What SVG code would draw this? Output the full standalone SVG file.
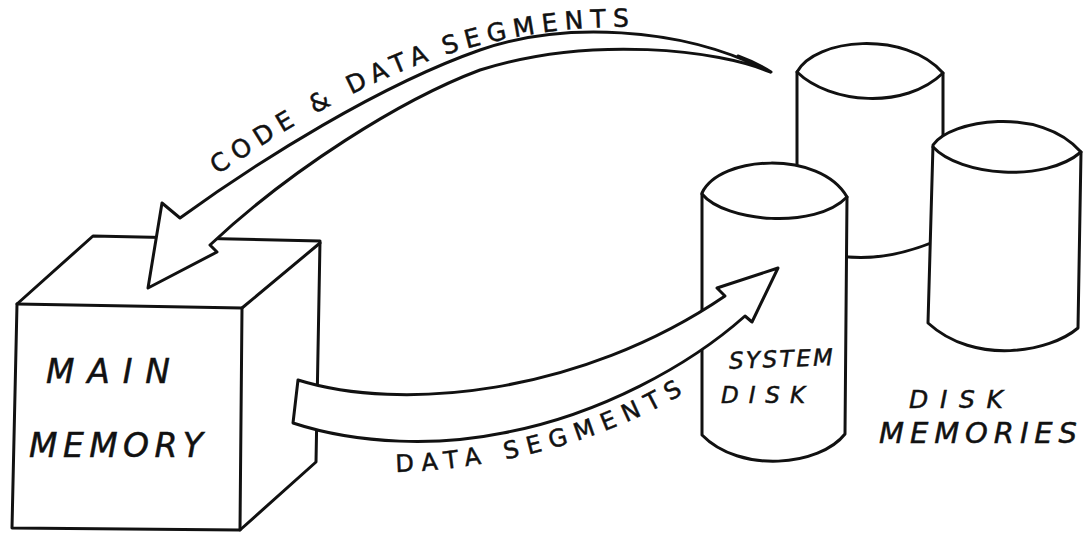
<svg xmlns="http://www.w3.org/2000/svg" width="1084" height="534" viewBox="0 0 1084 534">
  <style>
    .ln { fill: #fff; stroke: #111; stroke-width: 3; stroke-linejoin: round; stroke-linecap: round; }
    .open { fill: none; stroke: #111; stroke-width: 3; stroke-linejoin: round; stroke-linecap: round; }
    .lbl { font-family: "DejaVu Sans", "Liberation Sans", sans-serif; fill: #111; stroke: #111; stroke-width: 0.5; }
    .hand { font-style: italic; }
  </style>
  <defs>
    <!-- baselines for the lettering that follows the two arrows -->
    <path id="code-base" d="M 216,176 C 300,118 390,68 480,45 C 540,30 590,26 640,27"/>
    <path id="data-base" d="M 392,472 C 480,471 600,446 692,388"/>
  </defs>

  <rect width="1084" height="534" fill="#fff"/>

  <!-- main memory cube -->
  <g id="main-memory">
    <path class="ln" d="M 17,304 L 93,236 L 320,241 L 316,462 L 240,530 L 12,528 Z"/>
    <path class="open" d="M 17,304 L 242,308 L 240,530"/>
    <path class="open" d="M 242,308 L 320,243"/>
    <text class="lbl hand" x="46" y="383" font-size="33" textLength="124" lengthAdjust="spacing">MAIN</text>
    <text class="lbl hand" x="29" y="457" font-size="33" textLength="174" lengthAdjust="spacing">MEMORY</text>
  </g>

  <!-- disk memories: back cylinder -->
  <g id="disk-back">
    <path class="ln" d="M 797,72 C 815,38 905,30 943,73 L 943,238 Q 860,275 797,242 Z"/>
    <path class="open" d="M 797,72 C 830,104 905,110 943,73"/>
  </g>

  <!-- disk memories: right cylinder -->
  <g id="disk-right">
    <path class="ln" d="M 933,145 C 950,120 1040,105 1081,152 L 1078,328 C 1050,352 975,366 928,323 Z"/>
    <path class="open" d="M 933,147 C 960,176 1045,183 1081,152"/>
  </g>

  <!-- system disk cylinder -->
  <g id="system-disk">
    <path class="ln" d="M 702,193 C 720,155 820,150 847,197 L 845,434 C 820,466 740,474 702,435 Z"/>
    <path class="open" d="M 702,194 C 725,222 815,230 847,197"/>
    <text class="lbl hand" x="729" y="367" font-size="23" textLength="104" lengthAdjust="spacing" transform="rotate(-2 780 360)">SYSTEM</text>
    <text class="lbl hand" x="721" y="403" font-size="23" textLength="84" lengthAdjust="spacing">DISK</text>
  </g>

  <g id="disk-memories-label">
    <text class="lbl hand" x="909" y="408" font-size="25" textLength="94" lengthAdjust="spacing">DISK</text>
    <text class="lbl hand" x="879" y="443" font-size="29" textLength="198" lengthAdjust="spacing">MEMORIES</text>
  </g>

  <!-- transfer arrows -->
  <g id="connectors">
    <!-- disks to main memory -->
    <path class="ln" d="M 148,288 L 162,203 L 180,218
                        C 260,160 380,85 480,50
                        C 560,22 680,25 770,72
                        C 720,50 590,35 480,70
                        C 400,100 290,170 210,245
                        L 217,252 Z"/>
    <path class="open" stroke-width="5" d="M 738,56 Q 757,63 771,72"/>
    <!-- main memory to system disk -->
    <path class="ln" d="M 298,380
                        C 400,412 580,395 725,296
                        L 717,288 L 778,268 L 752,322 L 745,316
                        C 690,365 600,415 503,433
                        C 440,446 360,445 293,423 Z"/>
    <text class="lbl" font-size="25" letter-spacing="6.9"><textPath href="#code-base" startOffset="2">CODE &amp; DATA<tspan dx="-5"> SEGMENTS</tspan></textPath></text>
    <text class="lbl" font-size="24" letter-spacing="8.2"><textPath href="#data-base" startOffset="4">DATA SEGMENTS</textPath></text>
  </g>
</svg>
